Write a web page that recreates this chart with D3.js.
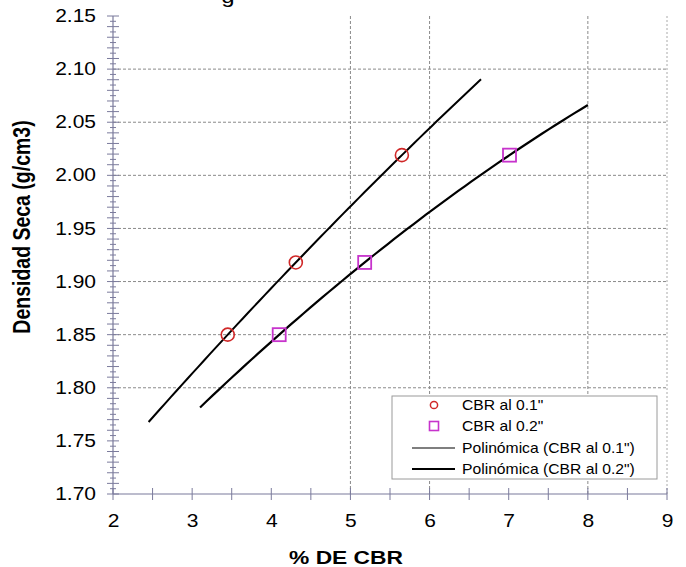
<!DOCTYPE html>
<html>
<head>
<meta charset="utf-8">
<script src="https://cdn.jsdelivr.net/npm/d3@7"></script>
<style>
  html, body { margin: 0; padding: 0; background: #ffffff; }
  text { font-family: "Liberation Sans", Arial, sans-serif; }
</style>
</head>
<body>
<script>
// ---------------- data ----------------
const densidad = [1.850, 1.918, 2.019];          // Densidad Seca (g/cm3)
const cbr01 = [3.45, 4.31, 5.65];                // CBR al 0.1"
const cbr02 = [4.10, 5.18, 7.01];                // CBR al 0.2"
const trendRange01 = [2.45, 6.65];               // extent of trend line 0.1"
const trendRange02 = [3.10, 8.00];               // extent of trend line 0.2"
const xTicks = [2, 3, 4, 5, 6, 7, 8, 9];
const yTicks = [1.70, 1.75, 1.80, 1.85, 1.90, 1.95, 2.00, 2.05, 2.10, 2.15];
const yGrid = [1.80, 1.85, 1.90, 1.95, 2.00, 2.05, 2.10];
const xGrid = [5, 6, 8];
const legendLabels = ['CBR al 0.1"', 'CBR al 0.2"', 'Polinómica (CBR al 0.1")', 'Polinómica (CBR al 0.2")'];

// ---------------- layout ----------------
const W = 686, H = 567;
const X0 = 113, X1 = 667, Y0 = 494, Y1 = 16;
const SX = 1.2; // horizontal stretch of the original picture's text
const axisColor = "#7b7b9c";
const gridColor = "#8a8a8a";
const redC = "#d02828";
const magC = "#c733cc";

const svg = d3.select("body").append("svg").attr("width", W).attr("height", H);

const x = d3.scaleLinear().domain([2, 9]).range([X0, X1]);
const y = d3.scaleLinear().domain([1.70, 2.15]).range([Y0, Y1]);

// partially visible title (cut at top edge)
svg.append("g").attr("transform", "translate(228,3)")
  .append("text").attr("transform", `scale(${SX},1)`)
  .attr("text-anchor", "middle").attr("font-size", 20).attr("fill", "#000").text("g");

// ---------------- grid ----------------
const grid = svg.append("g");
grid.selectAll("line.h").data(yGrid).join("line")
  .attr("x1", x(2)).attr("x2", x(9))
  .attr("y1", d => y(d)).attr("y2", d => y(d))
  .attr("stroke", gridColor).attr("stroke-width", 1).attr("stroke-dasharray", "3,2");
grid.selectAll("line.v").data(xGrid).join("line")
  .attr("x1", d => x(d)).attr("x2", d => x(d))
  .attr("y1", y(1.70)).attr("y2", y(2.15))
  .attr("stroke", gridColor).attr("stroke-width", 1).attr("stroke-dasharray", "3,2");
// right border (dashed, light)
grid.append("line")
  .attr("x1", x(9)).attr("x2", x(9)).attr("y1", y(1.70)).attr("y2", y(2.15))
  .attr("stroke", "#aaaaaa").attr("stroke-width", 1).attr("stroke-dasharray", "2,2");

// ---------------- trend lines (polynomial order 2, least squares) ----------------
function polyfit2(xs, ys) {
  const n = xs.length;
  const S = k => d3.sum(xs, v => Math.pow(v, k));
  const T = k => d3.sum(xs.map((v, i) => Math.pow(v, k) * ys[i]));
  const A = [[n, S(1), S(2), T(0)], [S(1), S(2), S(3), T(1)], [S(2), S(3), S(4), T(2)]];
  for (let i = 0; i < 3; i++) {
    for (let j = i + 1; j < 3; j++) {
      const f = A[j][i] / A[i][i];
      for (let k = i; k < 4; k++) A[j][k] -= f * A[i][k];
    }
  }
  const c = [0, 0, 0];
  for (let i = 2; i >= 0; i--) {
    let s = A[i][3];
    for (let k = i + 1; k < 3; k++) s -= A[i][k] * c[k];
    c[i] = s / A[i][i];
  }
  return v => c[0] + c[1] * v + c[2] * v * v;
}
const f01 = polyfit2(cbr01, densidad);
const f02 = polyfit2(cbr02, densidad);
const line = d3.line().x(d => x(d[0])).y(d => y(d[1]));
function curve(f, r) {
  const n = 60;
  return d3.range(n + 1).map(i => { const v = r[0] + (r[1] - r[0]) * i / n; return [v, f(v)]; });
}
svg.append("path").attr("d", line(curve(f01, trendRange01)))
  .attr("fill", "none").attr("stroke", "#000").attr("stroke-width", 2);
svg.append("path").attr("d", line(curve(f02, trendRange02)))
  .attr("fill", "none").attr("stroke", "#000").attr("stroke-width", 2.2);

// ---------------- markers ----------------
svg.selectAll("circle.p01").data(d3.zip(cbr01, densidad)).join("circle")
  .attr("cx", d => x(d[0])).attr("cy", d => y(d[1])).attr("r", 6.5)
  .attr("fill", "none").attr("stroke", redC).attr("stroke-width", 1.6);
const sq = 13;
svg.selectAll("rect.p02").data(d3.zip(cbr02, densidad)).join("rect")
  .attr("x", d => x(d[0]) - sq / 2).attr("y", d => y(d[1]) - sq / 2)
  .attr("width", sq).attr("height", sq)
  .attr("fill", "none").attr("stroke", magC).attr("stroke-width", 1.8);

// ---------------- axes ----------------
// y axis
const yAx = svg.append("g").attr("transform", `translate(${X0},0)`)
  .call(d3.axisLeft(y).tickValues(yTicks).tickFormat(d3.format(".2f")).tickSize(0).tickPadding(17));
yAx.select(".domain").remove();
yAx.selectAll("text").attr("font-size", 17.5).attr("fill", "#000")
  .attr("font-family", '"Liberation Sans", Arial, sans-serif')
  .attr("x", -17 / SX).attr("transform", `scale(${SX},1)`);
// y axis line + ticks
svg.append("line").attr("x1", X0).attr("x2", X0).attr("y1", Y1).attr("y2", Y0)
  .attr("stroke", axisColor).attr("stroke-width", 1.2);
const yMinor = d3.range(0, 91).map(i => +(1.70 + i * 0.005).toFixed(3));
svg.selectAll("line.ytk").data(yMinor).join("line")
  .attr("x1", (d, i) => i % 2 === 0 ? X0 - 6 : X0 - 3)
  .attr("x2", (d, i) => i % 2 === 0 ? X0 + 6 : X0 + 3)
  .attr("y1", d => y(d)).attr("y2", d => y(d))
  .attr("stroke", axisColor).attr("stroke-width", 1);

// x axis
const xAx = svg.append("g").attr("transform", `translate(0,${Y0})`)
  .call(d3.axisBottom(x).tickValues(xTicks).tickFormat(d3.format("d")).tickSize(0).tickPadding(21));
xAx.select(".domain").remove();
xAx.selectAll("text").attr("font-size", 17.5).attr("fill", "#000")
  .attr("font-family", '"Liberation Sans", Arial, sans-serif')
  .attr("transform", `scale(${SX},1)`);
svg.append("line").attr("x1", X0).attr("x2", X1).attr("y1", Y0).attr("y2", Y0)
  .attr("stroke", axisColor).attr("stroke-width", 1.2);
const xMinor = d3.range(0, 15).map(i => 2 + i * 0.5);
svg.selectAll("line.xtk").data(xMinor).join("line")
  .attr("x1", d => x(d)).attr("x2", d => x(d))
  .attr("y1", Y0 - 6).attr("y2", Y0 + 6)
  .attr("stroke", axisColor).attr("stroke-width", 1);

// axis titles
svg.append("g").attr("transform", "translate(346,564)")
  .append("text").attr("transform", `scale(${SX},1)`)
  .attr("text-anchor", "middle").attr("font-size", 19).attr("font-weight", "bold")
  .attr("fill", "#000").text("% DE CBR");
svg.append("g").attr("transform", "translate(30,227) rotate(-90)")
  .append("text").attr("transform", `scale(1,${SX})`)
  .attr("text-anchor", "middle").attr("font-size", 19.5).attr("font-weight", "bold")
  .attr("fill", "#000").text("Densidad Seca (g/cm3)");

// ---------------- legend ----------------
const lg = svg.append("g");
lg.append("rect").attr("x", 392).attr("y", 396).attr("width", 265).attr("height", 83)
  .attr("fill", "#fff").attr("stroke", "#9a9a9a").attr("stroke-width", 1);
const rowY = [405, 426, 448, 469];
lg.append("circle").attr("cx", 434).attr("cy", rowY[0]).attr("r", 3.6)
  .attr("fill", "none").attr("stroke", redC).attr("stroke-width", 1.5);
lg.append("rect").attr("x", 434 - 4.5).attr("y", rowY[1] - 4.5).attr("width", 9).attr("height", 9)
  .attr("fill", "none").attr("stroke", magC).attr("stroke-width", 1.6);
lg.append("line").attr("x1", 412).attr("x2", 455).attr("y1", rowY[2]).attr("y2", rowY[2])
  .attr("stroke", "#000").attr("stroke-width", 1.2);
lg.append("line").attr("x1", 412).attr("x2", 455).attr("y1", rowY[3]).attr("y2", rowY[3])
  .attr("stroke", "#000").attr("stroke-width", 2.2);
legendLabels.forEach((t, i) => {
  lg.append("g").attr("transform", `translate(462,${rowY[i] + 5})`)
    .append("text").attr("transform", "scale(1.12,1)")
    .attr("font-size", 14).attr("fill", "#000").text(t);
});
</script>
</body>
</html>
